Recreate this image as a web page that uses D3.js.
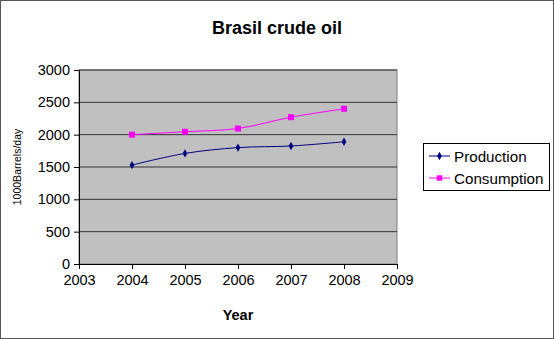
<!DOCTYPE html>
<html><head><meta charset="utf-8">
<script src="https://cdn.jsdelivr.net/npm/d3@7"></script>
<style>body{margin:0;background:#fff}svg{display:block}text{font-family:"Liberation Sans",Arial,sans-serif}</style>
</head><body>
<script>
const years = [2004, 2005, 2006, 2007, 2008];
const production = [1530, 1710, 1800, 1825, 1890];
const consumption = [2000, 2045, 2095, 2270, 2400];
const xTicks = [2003, 2004, 2005, 2006, 2007, 2008, 2009];
const yTicks = [0, 500, 1000, 1500, 2000, 2500, 3000];
const seriesNames = ["Production", "Consumption"];

const W = 554, H = 339;
const svg = d3.select("body").append("svg").attr("width", W).attr("height", H);
svg.append("rect").attr("x", 0.5).attr("y", 0.5).attr("width", W - 1).attr("height", H - 1)
  .attr("fill", "#fff").attr("stroke", "#555").attr("stroke-width", 1);

const L = 79, R = 397, T = 70, B = 264;
const x = d3.scaleLinear().domain([2003, 2009]).range([L, R]);
const y = d3.scaleLinear().domain([0, 3000]).range([B, T]);

svg.append("rect").attr("x", L).attr("y", T).attr("width", R - L).attr("height", B - T)
  .attr("fill", "#C0C0C0").attr("stroke", "#808080");

svg.append("g").selectAll("line").data(yTicks.filter(d => d > 0)).join("line")
  .attr("x1", L).attr("x2", R).attr("y1", d => y(d)).attr("y2", d => y(d))
  .attr("stroke", "#333").attr("stroke-width", 1);

const xAxis = svg.append("g").attr("transform", `translate(0,${B})`)
  .call(d3.axisBottom(x).tickValues(xTicks).tickFormat(d3.format("d")).tickSize(5).tickSizeOuter(0));
const yAxis = svg.append("g").attr("transform", `translate(${L},0)`)
  .call(d3.axisLeft(y).tickValues(yTicks).tickFormat(d3.format("d")).tickSize(5).tickSizeOuter(0));
[xAxis, yAxis].forEach(a => {
  a.select(".domain").attr("stroke", "#000");
  a.selectAll(".tick line").attr("stroke", "#000");
  a.selectAll("text").attr("font-size", 14.5).attr("fill", "#000");
});
xAxis.selectAll("text").attr("dy", "0.71em").attr("y", 11);
yAxis.selectAll("text").attr("x", -9);

const colors = ["#000080", "#FF00FF"];
const data = [production, consumption];
const line = d3.line().x((d, i) => x(years[i])).y(d => y(d)).curve(d3.curveCatmullRom.alpha(0.5));
data.forEach((vals, k) => {
  svg.append("path").attr("d", line(vals)).attr("fill", "none").attr("stroke", colors[k]).attr("stroke-width", 1);
  const sym = k === 0 ? d3.symbolDiamond : d3.symbolSquare;
  svg.append("g").selectAll("path").data(vals).join("path")
    .attr("transform", (d, i) => `translate(${x(years[i])},${y(d)})`)
    .attr("d", d3.symbol().type(sym).size(k === 0 ? 20 : 36)).attr("fill", colors[k]);
});

svg.append("text").attr("x", 277).attr("y", 34).attr("text-anchor", "middle")
  .attr("font-size", 18).attr("font-weight", "bold").text("Brasil crude oil");
svg.append("text").attr("x", 238).attr("y", 320).attr("text-anchor", "middle")
  .attr("font-size", 14.5).attr("font-weight", "bold").text("Year");
svg.append("text").attr("transform", `translate(21,${(T + B) / 2}) rotate(-90)`)
  .attr("text-anchor", "middle").attr("font-size", 10.5).text("1000Barrels/day");

const lg = svg.append("g");
lg.append("rect").attr("x", 423.5).attr("y", 143.5).attr("width", 126).attr("height", 47)
  .attr("fill", "#fff").attr("stroke", "#000");
seriesNames.forEach((n, k) => {
  const yy = 156 + k * 22;
  lg.append("line").attr("x1", 429).attr("x2", 450).attr("y1", yy).attr("y2", yy).attr("stroke", colors[k]);
  lg.append("path").attr("transform", `translate(439.5,${yy})`)
    .attr("d", d3.symbol().type(k === 0 ? d3.symbolDiamond : d3.symbolSquare).size(k === 0 ? 20 : 30)).attr("fill", colors[k]);
  lg.append("text").attr("x", 454).attr("y", yy + 5.5).attr("font-size", 15.2).text(n);
});
</script>
</body></html>
